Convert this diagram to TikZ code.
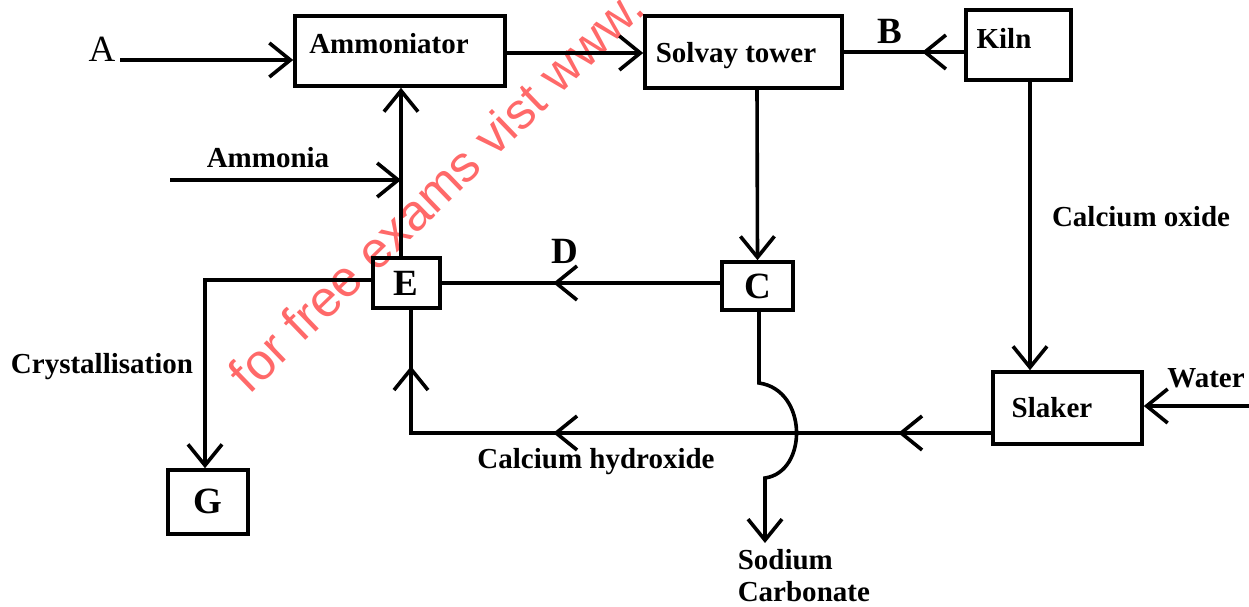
\documentclass[tikz,border=0pt]{standalone}
\usepackage{fontspec}
\setmainfont{Liberation Serif}
\newfontfamily\wmfont{Liberation Sans}
\usetikzlibrary{arrows.meta,calc,decorations.markings}
\definecolor{wmred}{RGB}{255,105,105}
\begin{document}
\begin{tikzpicture}[x=1pt,y=-1pt,
  >={Straight Barb[length=21pt,width=34pt]},
  every path/.style={line width=3.6pt},
  box/.style={draw,line width=3.6pt,inner sep=0pt,rectangle},
  lbl/.style={font=\fontsize{29}{32}\selectfont\bfseries,inner sep=0pt},
  big/.style={font=\fontsize{37}{40}\selectfont\bfseries,inner sep=0pt},
  conn/.style={line width=3.6pt}]
\useasboundingbox[fill=white] (0,0) rectangle (1249,607);
% watermark
\node[text=wmred,rotate=44,font=\wmfont\fontsize{51}{53}\selectfont,inner sep=0pt] (wm) at (436,190) {for free exams vist www.};
% boxes
\node[box,minimum width=210,minimum height=70] (amm) at (400,51) {};
\node[box,minimum width=197,minimum height=72] (solvay) at (743.5,52) {};
\node[box,minimum width=105,minimum height=70] (kiln) at (1018.5,45) {};
\node[box,minimum width=67,minimum height=50] (E) at (406.5,283) {};
\node[box,minimum width=71,minimum height=48] (C) at (757.5,286) {};
\node[box,minimum width=80,minimum height=64] (G) at (208,502) {};
\node[box,minimum width=149,minimum height=72] (slaker) at (1067.5,408) {};
% box texts
\node[lbl] (ammT) at (389,44) {Ammoniator};
\node[lbl] (solT) at (736,56) {Solvay tower};
\node[lbl] (kilnT) at (1004,38) {Kiln};
\node[lbl] (slakT) at (1052,408) {Slaker};
\node[big] (ET) at (406,283) {E};
\node[big] (CT) at (758,286) {C};
\node[big] (GT) at (208,501) {G};
% labels
\node[font=\fontsize{37}{40}\selectfont,inner sep=0pt] (Alab) at (102,49) {A};
\node[big] (Blab) at (890,31) {B};
\node[big] (Dlab) at (565,251) {D};
\node[lbl] (ammonia) at (268,158) {Ammonia};
\node[lbl] (cao) at (1141,217) {Calcium oxide};
\node[lbl] (water) at (1206,378) {Water};
\node[lbl] (cryst) at (102,367) {Crystallisation};
\node[lbl] (caoh) at (596,462) {Calcium hydroxide};
\node[lbl,align=left,anchor=north west] (soda) at (736,548) {Sodium\\Carbonate};
% coordinates
\coordinate (aS) at (120,60);
\coordinate (nh3S) at (170,180);
\coordinate (waterS) at (1249,406);
\coordinate (crystC) at (205,280);
\coordinate (cBump1) at (759,383);
\coordinate (cBump2) at (765,478);
\coordinate (sodaEnd) at (765,543);
% connectors
\draw[->] (aS) -- (aS -| amm.west);
\draw[->] (amm.east |- 0,53) -- (solvay.west |- 0,53);
\draw[postaction={decorate},decoration={markings,mark=at position 0.35 with {\arrow{>}}}]
  (kiln.west |- 0,52) -- (solvay.east |- 0,52);
\draw[->] (757,88) -- (C.north);
\draw[postaction={decorate},decoration={markings,mark=at position 0.6 with {\arrow{>}}}]
  (C.west |- 0,283) -- (E.east |- 0,283);
\draw[->] (E.north -| 401,0) -- (amm.south -| 401,0);
\draw[->] (nh3S) -- (nh3S -| 401,0);
\draw[->] (E.west |- crystC) -- (crystC) -- (G.north -| crystC);
\draw[->] (kiln.south -| 1030,0) -- (slaker.north -| 1030,0);
\draw[->] (waterS) -- (slaker.east |- waterS);
\draw[postaction={decorate},decoration={markings,
    mark=at position 93pt with {\arrow{>}},
    mark=at position 438pt with {\arrow{>}},
    mark=at position 647pt with {\arrow{>}}}]
  (slaker.west |- 0,433) -- (411,433) -- (E.south -| 411,0);
\draw[->] (C.south -| cBump1) -- (cBump1) .. controls (808,390) and (808,472) .. (cBump2) -- (sodaEnd);
\end{tikzpicture}
\end{document}
